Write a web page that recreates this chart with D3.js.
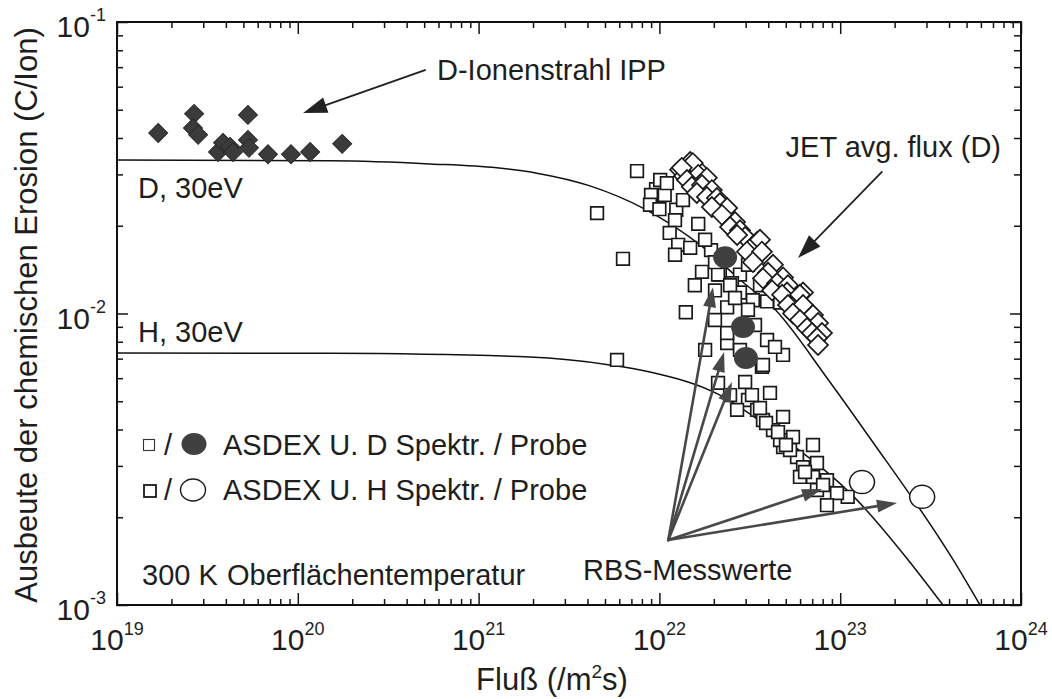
<!DOCTYPE html>
<html>
<head>
<meta charset="utf-8">
<script src="https://cdn.jsdelivr.net/npm/d3@7"></script>
<style>
  body { margin: 0; background: #fff; }
  text { font-family: "Liberation Sans", Arial, Helvetica, sans-serif; fill: #1e1e1e; }
</style>
</head>
<body>
<svg id="chart" width="1052" height="699"></svg>
<script>
// ---- axis ticks ----
const xMajorTicks = [1e19, 1e20, 1e21, 1e22, 1e23, 1e24];
const xTickExponents = ["19", "20", "21", "22", "23", "24"];
const yMajorTicks = [1e-3, 1e-2, 1e-1];
const yTickExponents = ["-3", "-2", "-1"];

// ---- model curves, 30 eV: [flux /m^2s, yield C/ion] ----
const modelD30 = [[1e19, 0.0336], [1.51e20, 0.0334], [5.39e20, 0.0326], [1.26e21, 0.0316],
  [2.10e21, 0.0303], [4.13e21, 0.0274], [8.32e21, 0.0228], [1.74e22, 0.0169], [2.90e22, 0.0128],
  [4.25e22, 0.0105], [8.45e22, 0.00601], [1.46e23, 0.00374], [4.21e23, 0.00143], [5.93e23, 0.001]];
const modelH30 = [[1e19, 0.00732], [1.51e20, 0.00730], [1.92e21, 0.00709], [5.33e21, 0.00666],
  [8.87e21, 0.00630], [2.11e22, 0.00529], [4.65e22, 0.00380], [1.24e23, 0.00229],
  [2.37e23, 0.00143], [3.70e23, 0.001]];

// ---- D ion beam, IPP ----
const ippBeam = [[1.69e19, 0.0416], [2.67e19, 0.0484], [2.63e19, 0.0433], [2.81e19, 0.0410],
  [5.30e19, 0.0480], [3.62e19, 0.0358], [3.86e19, 0.0385], [4.22e19, 0.0373], [4.38e19, 0.0358],
  [5.30e19, 0.0394], [5.37e19, 0.0370], [6.84e19, 0.0352], [9.17e19, 0.0352], [1.17e20, 0.0358],
  [1.76e20, 0.0382]];

// ---- JET average flux (D) ----
const jetAvgFlux = [[1.48e22, 0.0331], [1.30e22, 0.0311], [1.68e22, 0.0306], [1.37e22, 0.0296],
  [1.53e22, 0.0328], [1.33e22, 0.0316], [1.64e22, 0.0299], [1.83e22, 0.0292], [1.42e22, 0.0287],
  [1.51e22, 0.0272], [1.72e22, 0.0276], [1.95e22, 0.0265], [1.61e22, 0.0259], [1.83e22, 0.0251],
  [2.08e22, 0.0249], [2.16e22, 0.0239], [2.37e22, 0.0230], [1.95e22, 0.0232], [2.22e22, 0.0218],
  [2.62e22, 0.0206], [2.46e22, 0.0198], [2.79e22, 0.0193], [2.98e22, 0.0183], [2.69e22, 0.0186],
  [3.47e22, 0.0176], [3.25e22, 0.0169], [3.60e22, 0.0179], [3.05e22, 0.0163], [3.69e22, 0.0163],
  [3.29e22, 0.0150], [4.25e22, 0.0147], [3.99e22, 0.0138], [3.74e22, 0.0132], [4.83e22, 0.0133],
  [4.47e22, 0.0127], [5.14e22, 0.0125], [4.20e22, 0.0120], [6.23e22, 0.0118], [5.08e22, 0.0118],
  [4.77e22, 0.0116], [5.99e22, 0.0116], [5.14e22, 0.0107], [6.23e22, 0.0107], [5.48e22, 0.0100],
  [7.07e22, 0.00988], [5.99e22, 0.00950], [7.54e22, 0.00928], [6.55e22, 0.00892],
  [6.98e22, 0.00857], [7.93e22, 0.00857], [7.44e22, 0.00824], [7.54e22, 0.00780]];

// ---- ASDEX Upgrade, spectroscopy (D) ----
const asdexDSpectr = [[7.52e21, 0.0308], [4.52e21, 0.0221], [6.29e21, 0.0154], [9.58e21, 0.0267],
  [8.99e21, 0.0255], [8.87e21, 0.0236], [1.00e22, 0.0228], [1.24e22, 0.0227], [1.22e22, 0.0209],
  [1.64e22, 0.0203], [1.14e22, 0.0189], [1.27e22, 0.0172], [1.48e22, 0.0168], [1.22e22, 0.0159],
  [1.93e22, 0.0165], [1.72e22, 0.0139], [1.57e22, 0.0125], [2.16e22, 0.0136], [2.79e22, 0.0136],
  [2.52e22, 0.0127], [2.79e22, 0.0118], [3.29e22, 0.0111], [2.37e22, 0.0105], [1.40e22, 0.0101],
  [3.09e22, 0.0103], [3.94e22, 0.0110], [4.65e22, 0.0109], [3.94e22, 0.00811], [4.83e22, 0.00721],
  [3.69e22, 0.00656], [1.79e22, 0.00750], [5.83e21, 0.00693], [2.37e22, 0.00792], [2.79e22, 0.00750],
  [2.11e22, 0.0136], [2.46e22, 0.0125], [1.01e22, 0.0287], [1.07e22, 0.0255], [3.38e22, 0.00913],
  [2.37e22, 0.00857], [4.36e22, 0.00768], [2.03e22, 0.00950], [1.10e22, 0.0280], [1.35e22, 0.0245],
  [1.79e22, 0.0179], [2.03e22, 0.0150], [3.60e22, 0.0125], [2.62e22, 0.0113], [2.03e22, 0.0120],
  [3.09e22, 0.0147]];

// ---- ASDEX Upgrade, spectroscopy (H) ----
const asdexHSpectr = [[3.74e22, 0.00666], [2.98e22, 0.00582], [4.09e22, 0.00534], [3.09e22, 0.00505],
  [4.83e22, 0.00442], [2.69e22, 0.00467], [3.47e22, 0.00467], [3.74e22, 0.00431], [4.25e22, 0.00398],
  [5.48e22, 0.00377], [7.07e22, 0.00354], [4.83e22, 0.00348], [5.77e22, 0.00322], [7.44e22, 0.00307],
  [6.23e22, 0.00297], [5.99e22, 0.00275], [7.07e22, 0.00275], [8.45e22, 0.00268], [7.44e22, 0.00248],
  [1.10e23, 0.00235], [9.60e22, 0.00242], [8.45e22, 0.00220], [2.11e22, 0.00578], [3.60e22, 0.00474],
  [3.25e22, 0.00525], [3.89e22, 0.00421], [4.65e22, 0.00368], [5.28e22, 0.00340], [6.39e22, 0.00286],
  [8.04e22, 0.00258], [4.53e22, 0.00392], [5.01e22, 0.00354], [2.46e22, 0.00525]];

// ---- ASDEX Upgrade, probe / RBS ----
const asdexDProbe = [[2.31e22, 0.0156], [2.90e22, 0.00899], [3.01e22, 0.00704]];
const asdexHProbe = [[1.32e23, 0.00264], [2.84e23, 0.00235]];

// ---- annotation arrows: [from, to] in data coordinates ----
const ippArrow = [[5.05e20, 0.0684], [1.07e20, 0.0487]];
const jetArrow = [[1.70e23, 0.0306], [5.84e22, 0.0155]];
const rbsOrigin = [1.12e22, 0.00167];
const rbsTargets = [[1.98e22, 0.0123], [2.28e22, 0.00738], [2.52e22, 0.00582],
  [7.93e22, 0.00250], [2.06e23, 0.00224]];

// ---- layout ----
const W = 1052, H = 699;
const plot = { left: 117, right: 1021, top: 22, bottom: 605 };
const svg = d3.select("#chart");
svg.append("rect").attr("width", W).attr("height", H).attr("fill", "#fff");

const x = d3.scaleLog().domain([1e19, 1e24]).range([plot.left, plot.right]);
const y = d3.scaleLog().domain([1e-3, 1e-1]).range([plot.bottom, plot.top]);

// minor ticks 2..9 within each decade
const xMinor = [], yMinor = [];
xMajorTicks.slice(0, -1).forEach(d => { for (let k = 2; k <= 9; k++) xMinor.push(k * d); });
yMajorTicks.slice(0, -1).forEach(d => { for (let k = 2; k <= 9; k++) yMinor.push(k * d); });

function tickSet(axisGen, translate, values, size) {
  const g = svg.append("g")
    .attr("transform", translate)
    .call(axisGen.tickValues(values).tickSize(size).tickSizeOuter(0).tickFormat(""));
  g.select(".domain").remove();
  g.selectAll(".tick line").attr("stroke", "#151515").attr("stroke-width", 1.5);
}
// ticks point inward on all four sides
tickSet(d3.axisBottom(x), `translate(0,${plot.bottom})`, xMajorTicks, -12);
tickSet(d3.axisBottom(x), `translate(0,${plot.bottom})`, xMinor, -6);
tickSet(d3.axisTop(x), `translate(0,${plot.top})`, xMajorTicks, -12);
tickSet(d3.axisTop(x), `translate(0,${plot.top})`, xMinor, -6);
tickSet(d3.axisLeft(y), `translate(${plot.left},0)`, yMajorTicks, -11);
tickSet(d3.axisLeft(y), `translate(${plot.left},0)`, yMinor, -6);
tickSet(d3.axisRight(y), `translate(${plot.right},0)`, yMajorTicks, -11);
tickSet(d3.axisRight(y), `translate(${plot.right},0)`, yMinor, -7);

// tick labels as powers of ten
xMajorTicks.forEach((v, i) => {
  const t = svg.append("text").attr("x", x(v)).attr("y", plot.bottom + 45)
    .attr("text-anchor", "middle").attr("font-size", 30);
  t.append("tspan").text("10");
  t.append("tspan").attr("dy", -15).attr("font-size", 18).text(xTickExponents[i]);
});
yMajorTicks.forEach((v, i) => {
  const t = svg.append("text").attr("x", 106).attr("y", y(v) + 15)
    .attr("text-anchor", "end").attr("font-size", 30);
  t.append("tspan").text("10");
  t.append("tspan").attr("dy", -16).attr("font-size", 18).text(yTickExponents[i]);
});

// axis titles
const xt = svg.append("text").attr("x", 552).attr("y", 690)
  .attr("text-anchor", "middle").attr("font-size", 31);
xt.append("tspan").text("Fluß (/m");
xt.append("tspan").attr("dy", -12).attr("font-size", 19).text("2");
xt.append("tspan").attr("dy", 12).text("s)");

svg.append("text")
  .attr("transform", "translate(37,315) rotate(-90)")
  .attr("text-anchor", "middle").attr("font-size", 31)
  .text("Ausbeute der chemischen Erosion (C/Ion)");

// model curves
const line = d3.line().x(d => x(d[0])).y(d => y(d[1])).curve(d3.curveMonotoneX);
svg.append("defs").append("clipPath").attr("id", "plotClip")
  .append("rect").attr("x", plot.left).attr("y", plot.top)
  .attr("width", plot.right - plot.left).attr("height", plot.bottom - plot.top);
const curves = svg.append("g").attr("clip-path", "url(#plotClip)");
[modelD30, modelH30].forEach(data => {
  curves.append("path").datum(data).attr("d", line)
    .attr("fill", "none").attr("stroke", "#111").attr("stroke-width", 1.5);
});

// ASDEX spectroscopy squares
const square = d3.symbol().type(d3.symbolSquare).size(160);
svg.append("g").selectAll("path").data(asdexDSpectr).join("path")
  .attr("d", square).attr("transform", d => `translate(${x(d[0])},${y(d[1])})`)
  .attr("fill", "#fff").attr("stroke", "#1a1a1a").attr("stroke-width", 1.7);
svg.append("g").selectAll("path").data(asdexHSpectr).join("path")
  .attr("d", square).attr("transform", d => `translate(${x(d[0])},${y(d[1])})`)
  .attr("fill", "#fff").attr("stroke", "#1a1a1a").attr("stroke-width", 1.7);

// JET open diamonds
const diamondOpen = d3.symbol().type(d3.symbolSquare).size(200);
svg.append("g").selectAll("path").data(jetAvgFlux).join("path")
  .attr("d", diamondOpen)
  .attr("transform", d => `translate(${x(d[0])},${y(d[1])}) rotate(45)`)
  .attr("fill", "#fff").attr("stroke", "#1a1a1a").attr("stroke-width", 1.7);

// IPP ion beam filled diamonds
const diamondFilled = d3.symbol().type(d3.symbolSquare).size(180);
svg.append("g").selectAll("path").data(ippBeam).join("path")
  .attr("d", diamondFilled)
  .attr("transform", d => `translate(${x(d[0])},${y(d[1])}) rotate(45)`)
  .attr("fill", "#3b3b3b").attr("stroke", "#2a2a2a").attr("stroke-width", 1);

// probe circles
svg.append("g").selectAll("ellipse").data(asdexDProbe).join("ellipse")
  .attr("cx", d => x(d[0])).attr("cy", d => y(d[1])).attr("rx", 12).attr("ry", 11)
  .attr("fill", "#404040");
svg.append("g").selectAll("ellipse").data(asdexHProbe).join("ellipse")
  .attr("cx", d => x(d[0])).attr("cy", d => y(d[1])).attr("rx", 12.5).attr("ry", 11.5)
  .attr("fill", "#fff").attr("stroke", "#1a1a1a").attr("stroke-width", 1.5);

// arrows
function arrow(from, to, color, width, headLen, headHalf) {
  const x0 = x(from[0]), y0 = y(from[1]), x1 = x(to[0]), y1 = y(to[1]);
  const a = Math.atan2(y1 - y0, x1 - x0);
  const bx = x1 - headLen * Math.cos(a), by = y1 - headLen * Math.sin(a);
  const g = svg.append("g");
  g.append("line").attr("x1", x0).attr("y1", y0).attr("x2", bx).attr("y2", by)
    .attr("stroke", color).attr("stroke-width", width).attr("stroke-linecap", "round");
  const px = -Math.sin(a) * headHalf, py = Math.cos(a) * headHalf;
  g.append("path")
    .attr("d", `M${x1},${y1}L${bx + px},${by + py}L${bx - px},${by - py}Z`)
    .attr("fill", color);
}
arrow(ippArrow[0], ippArrow[1], "#222", 2, 24, 8);
arrow(jetArrow[0], jetArrow[1], "#222", 1.8, 24, 8);
rbsTargets.forEach(t => arrow(rbsOrigin, t, "#484848", 2.6, 20, 6.5));

// annotation labels
const label = (tx, ty, str, anchor) => svg.append("text").attr("x", tx).attr("y", ty)
  .attr("font-size", 29).attr("text-anchor", anchor || "start").text(str);
label(437, 80, "D-Ionenstrahl IPP");
label(1001, 157, "JET avg. flux (D)", "end");
label(138, 198, "D, 30eV");
label(138, 342, "H, 30eV");
label(142, 585, "300 K");
label(227, 585, "Oberflächentemperatur");
label(583, 580, "RBS-Messwerte");

// legend
const legend = svg.append("g");
legend.append("rect").attr("x", 143.5).attr("y", 439.5).attr("width", 11).attr("height", 11)
  .attr("fill", "#fff").attr("stroke", "#333").attr("stroke-width", 1.1);
legend.append("text").attr("x", 168).attr("y", 455).attr("font-size", 29)
  .attr("text-anchor", "middle").text("/");
legend.append("ellipse").attr("cx", 194).attr("cy", 444).attr("rx", 12.5).attr("ry", 11)
  .attr("fill", "#404040");
legend.append("text").attr("x", 223).attr("y", 455).attr("font-size", 29)
  .text("ASDEX U. D Spektr. / Probe");
legend.append("rect").attr("x", 144).attr("y", 485).attr("width", 12).attr("height", 12)
  .attr("fill", "#fff").attr("stroke", "#1a1a1a").attr("stroke-width", 1.8);
legend.append("text").attr("x", 168).attr("y", 500).attr("font-size", 29)
  .attr("text-anchor", "middle").text("/");
legend.append("ellipse").attr("cx", 193).attr("cy", 490).attr("rx", 12.5).attr("ry", 11)
  .attr("fill", "#fff").attr("stroke", "#1a1a1a").attr("stroke-width", 1.4);
legend.append("text").attr("x", 223).attr("y", 500).attr("font-size", 29)
  .text("ASDEX U. H Spektr. / Probe");

// plot frame
svg.append("rect").attr("x", plot.left).attr("y", plot.top)
  .attr("width", plot.right - plot.left).attr("height", plot.bottom - plot.top)
  .attr("fill", "none").attr("stroke", "#111").attr("stroke-width", 2);
</script>
</body>
</html>
